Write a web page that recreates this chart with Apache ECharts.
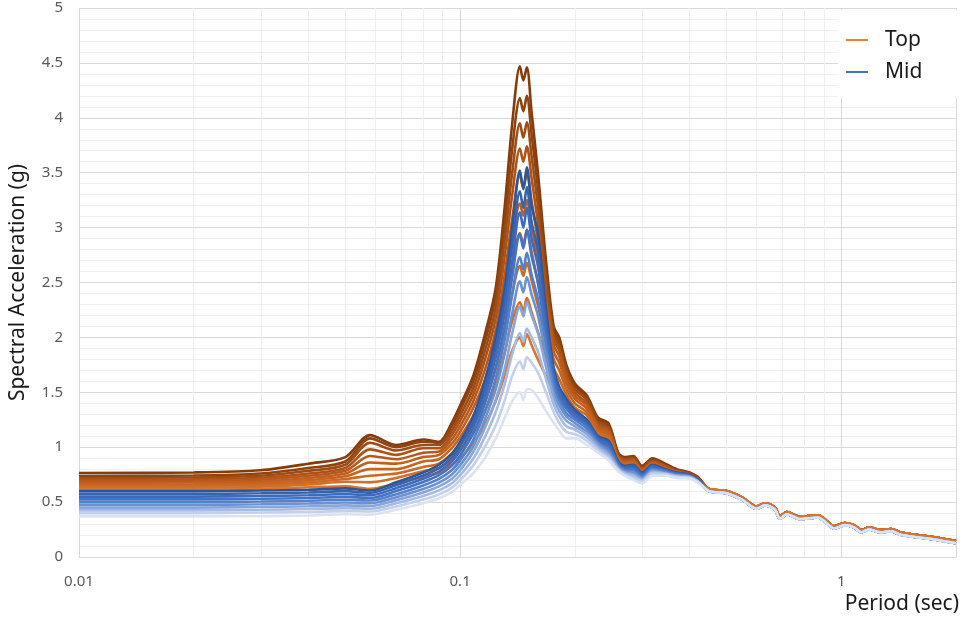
<!DOCTYPE html>
<html>
<head>
<meta charset="utf-8">
<title>Spectral Acceleration</title>
<script src="https://cdn.jsdelivr.net/npm/echarts@6/dist/echarts.min.js"></script>
<style>
  html, body { margin: 0; padding: 0; background: #fff; }
  #chart { width: 970px; height: 624px; }
</style>
</head>
<body>
<div id="chart"></div>
<script>
// periods (sec) where each curve is read individually
const periods = [0.01, 0.02, 0.03, 0.04, 0.05, 0.058, 0.068, 0.08, 0.088, 0.095,
  0.1, 0.108, 0.116, 0.124, 0.131, 0.137, 0.1435, 0.1465, 0.1496, 0.154,
  0.16, 0.168, 0.176, 0.182, 0.19, 0.2, 0.215, 0.23, 0.245, 0.26,
  0.27, 0.285, 0.3, 0.32, 0.345, 0.37, 0.4, 0.42]

// long periods, where all curves of a group sit on top of each other
const tailPeriods = [0.45, 0.5, 0.55, 0.6, 0.63, 0.67, 0.69, 0.72, 0.78, 0.87,
  0.9, 0.96, 1.02, 1.08, 1.13, 1.18, 1.27, 1.35, 1.44, 1.75, 2.0]
const tailTop = [0.62, 0.6, 0.54, 0.46, 0.49, 0.45, 0.37, 0.41, 0.365, 0.38,
  0.35, 0.28, 0.31, 0.29, 0.245, 0.27, 0.245, 0.255, 0.22, 0.18, 0.145]
const tailMid = [0.6, 0.58, 0.52, 0.44, 0.47, 0.43, 0.35, 0.39, 0.345, 0.36,
  0.33, 0.26, 0.29, 0.27, 0.225, 0.25, 0.225, 0.235, 0.2, 0.16, 0.125]

// Top group, highest to lowest
const top01 = [.765, .77, .79, .85, .91, 1.11, 1.02, 1.07, 1.05, 1.22, 1.38, 1.64, 2.02, 2.45, 3.2, 3.95, 4.47, 4.34, 4.46, 4.05, 3.5, 2.7, 2.1, 2.0, 1.75, 1.58, 1.47, 1.27, 1.22, .95, .91, .92, .83, .9, .85, .8, .77, .73]
const top02 = [.738, .742, .76, .81, .87, 1.08, 1.0, 1.05, 1.04, 1.19, 1.34, 1.59, 1.95, 2.38, 3.05, 3.72, 4.18, 4.06, 4.2, 3.85, 3.36, 2.62, 2.06, 1.96, 1.72, 1.56, 1.45, 1.25, 1.2, .94, .9, .91, .82, .89, .84, .79, .765, .725]
const top03 = [.72, .724, .74, .785, .84, 1.04, .97, 1.02, 1.02, 1.15, 1.29, 1.53, 1.87, 2.28, 2.9, 3.5, 3.95, 3.82, 3.96, 3.65, 3.2, 2.53, 2.02, 1.92, 1.69, 1.53, 1.43, 1.23, 1.18, .93, .89, .9, .81, .88, .83, .79, .76, .72]
const top04 = [.705, .708, .722, .76, .81, .98, .93, .99, .99, 1.11, 1.24, 1.47, 1.79, 2.18, 2.75, 3.3, 3.72, 3.6, 3.74, 3.45, 3.04, 2.44, 1.98, 1.88, 1.66, 1.5, 1.4, 1.21, 1.16, .92, .88, .89, .8, .87, .83, .78, .755, .715]
const top05 = [.69, .693, .705, .74, .785, .92, .89, .95, .96, 1.07, 1.19, 1.41, 1.7, 2.07, 2.58, 3.08, 3.48, 3.36, 3.5, 3.24, 2.88, 2.34, 1.93, 1.83, 1.62, 1.47, 1.38, 1.19, 1.15, .91, .87, .88, .79, .86, .82, .78, .75, .71]
const top06 = [.675, .678, .688, .72, .76, .86, .85, .91, .93, 1.03, 1.14, 1.35, 1.61, 1.96, 2.42, 2.87, 3.22, 3.11, 3.25, 3.02, 2.7, 2.23, 1.87, 1.77, 1.58, 1.44, 1.35, 1.17, 1.13, .9, .86, .87, .79, .85, .81, .77, .745, .705]
const top07 = [.66, .662, .672, .7, .735, .8, .8, .87, .89, .99, 1.09, 1.28, 1.52, 1.84, 2.25, 2.64, 2.95, 2.85, 2.98, 2.78, 2.5, 2.11, 1.8, 1.7, 1.53, 1.4, 1.32, 1.15, 1.11, .89, .85, .86, .78, .85, .8, .77, .74, .7]
const top08 = [.645, .647, .656, .68, .71, .74, .76, .82, .85, .94, 1.03, 1.2, 1.42, 1.71, 2.06, 2.4, 2.65, 2.56, 2.68, 2.52, 2.29, 1.97, 1.72, 1.62, 1.48, 1.36, 1.29, 1.13, 1.09, .88, .84, .85, .77, .84, .8, .76, .735, .695]
const top09 = [.63, .632, .64, .66, .685, .68, .72, .78, .81, .89, .97, 1.12, 1.32, 1.57, 1.87, 2.15, 2.32, 2.24, 2.36, 2.23, 2.05, 1.82, 1.63, 1.53, 1.42, 1.32, 1.25, 1.11, 1.07, .87, .83, .84, .76, .83, .79, .76, .73, .69]
const top10 = [.615, .616, .622, .635, .645, .62, .67, .73, .77, .84, .9, 1.03, 1.2, 1.42, 1.66, 1.88, 2.0, 1.92, 2.03, 1.93, 1.8, 1.65, 1.52, 1.44, 1.36, 1.28, 1.22, 1.09, 1.05, .86, .82, .83, .75, .82, .78, .75, .725, .685]

// Mid group, highest to lowest
const mid01 = [.6, .6, .605, .612, .625, .605, .68, .77, .84, .94, 1.05, 1.27, 1.6, 2.0, 2.45, 3.0, 3.52, 3.35, 3.55, 3.2, 2.95, 2.25, 1.72, 1.55, 1.44, 1.34, 1.25, 1.1, 1.06, .87, .83, .84, .77, .84, .8, .77, .75, .71]
const mid02 = [.575, .575, .58, .587, .6, .585, .655, .742, .81, .905, 1.01, 1.22, 1.53, 1.91, 2.34, 2.85, 3.33, 3.18, 3.37, 3.05, 2.8, 2.17, 1.68, 1.52, 1.41, 1.32, 1.23, 1.09, 1.04, .86, .82, .83, .76, .83, .79, .765, .745, .705]
const mid03 = [.55, .55, .555, .562, .574, .562, .628, .713, .778, .868, .97, 1.17, 1.46, 1.82, 2.23, 2.7, 3.14, 3.0, 3.18, 2.9, 2.65, 2.09, 1.64, 1.49, 1.38, 1.3, 1.21, 1.07, 1.02, .85, .81, .81, .75, .82, .79, .76, .74, .7]
const mid04 = [.525, .525, .53, .537, .548, .538, .6, .683, .745, .83, .925, 1.12, 1.39, 1.73, 2.11, 2.55, 2.94, 2.81, 2.98, 2.74, 2.5, 2.0, 1.6, 1.45, 1.35, 1.27, 1.19, 1.06, 1.0, .84, .8, .8, .74, .81, .78, .755, .74, .7]
const mid05 = [.5, .5, .505, .512, .522, .514, .572, .652, .712, .79, .88, 1.06, 1.32, 1.63, 1.99, 2.39, 2.73, 2.62, 2.77, 2.57, 2.35, 1.92, 1.55, 1.42, 1.31, 1.25, 1.17, 1.04, .98, .83, .79, .78, .73, .8, .78, .75, .735, .695]
const mid06 = [.475, .475, .48, .487, .496, .49, .545, .62, .678, .75, .835, 1.0, 1.25, 1.53, 1.86, 2.22, 2.51, 2.41, 2.55, 2.39, 2.2, 1.83, 1.5, 1.38, 1.28, 1.22, 1.14, 1.03, .96, .82, .78, .77, .72, .79, .77, .745, .735, .695]
const mid07 = [.45, .45, .455, .462, .47, .465, .518, .588, .643, .71, .79, .95, 1.17, 1.43, 1.72, 2.04, 2.28, 2.19, 2.32, 2.2, 2.04, 1.73, 1.45, 1.33, 1.24, 1.19, 1.12, 1.01, .94, .81, .77, .75, .71, .78, .76, .74, .73, .69]
const mid08 = [.425, .425, .43, .437, .445, .44, .49, .556, .607, .67, .745, .89, 1.09, 1.32, 1.58, 1.85, 2.04, 1.96, 2.08, 2.0, 1.87, 1.62, 1.39, 1.28, 1.19, 1.16, 1.09, .99, .92, .8, .76, .74, .7, .77, .76, .735, .725, .69]
const mid09 = [.4, .4, .405, .41, .418, .414, .46, .523, .57, .63, .7, .83, 1.0, 1.2, 1.43, 1.65, 1.78, 1.71, 1.82, 1.77, 1.68, 1.5, 1.32, 1.22, 1.14, 1.12, 1.06, .97, .9, .79, .75, .72, .69, .76, .75, .73, .72, .685]
const mid10 = [.37, .37, .372, .378, .39, .385, .43, .49, .535, .59, .655, .76, .9, 1.08, 1.27, 1.42, 1.5, 1.43, 1.53, 1.52, 1.45, 1.33, 1.22, 1.15, 1.08, 1.08, 1.02, .95, .88, .78, .74, .7, .67, .74, .74, .72, .715, .68]

const topCurves = [top01, top02, top03, top04, top05, top06, top07, top08, top09, top10]
const midCurves = [mid01, mid02, mid03, mid04, mid05, mid06, mid07, mid08, mid09, mid10]

// log minor grid positions
const minorPeriods = [0.02, 0.03, 0.04, 0.05, 0.06, 0.07, 0.08, 0.09,
  0.2, 0.3, 0.4, 0.5, 0.6, 0.7, 0.8, 0.9]

const topColors = ['#843c0c', '#8e4310', '#9e4b14', '#ae5318', '#b8591b',
  '#c05f1e', '#c66421', '#cb6a25', '#d0702a', '#d6762f']
const midColors = ['#2f5597', '#3762ad', '#3d6abb', '#4472c4', '#5381ca',
  '#6c91d1', '#88a6da', '#a5bbe3', '#c2d0ec', '#dbe3f3']

const font = "'Noto Sans', 'Open Sans', sans-serif"

const toPoints = (xs, ys) => xs.map((x, i) => [x, ys[i]])

const curveSeries = (name, curve, tail, color) => ({
  name: name,
  type: 'line',
  data: toPoints(periods, curve).concat(toPoints(tailPeriods, tail)),
  showSymbol: false,
  symbol: 'none',
  smooth: 0.3,
  z: 3,
  lineStyle: { width: 2.6, color: color },
  itemStyle: { color: color },
  emphasis: { disabled: true }
})

const series = [
  {
    type: 'line',
    data: [],
    silent: true,
    z: 1,
    markLine: {
      silent: true,
      z: 1,
      symbol: 'none',
      label: { show: false },
      lineStyle: { color: '#efefef', width: 1, type: 'solid' },
      data: minorPeriods.map(p => ({ xAxis: p }))
    }
  }
]
topCurves.forEach((c, i) => series.push(curveSeries('Top', c, tailTop, topColors[i])))
midCurves.forEach((c, i) => series.push(curveSeries('Mid', c, tailMid, midColors[i])))

const chart = echarts.init(document.getElementById('chart'))

chart.setOption({
  animation: false,
  backgroundColor: '#fff',
  textStyle: { fontFamily: font },
  grid: { left: 74, right: 14, top: 8, bottom: 67, containLabel: false },
  legend: {
    orient: 'vertical',
    left: 838,
    top: 10,
    padding: [18, 52, 14, 8],
    backgroundColor: '#fff',
    icon: 'rect',
    itemWidth: 22,
    itemHeight: 2,
    itemGap: 8,
    textStyle: { fontSize: 21, color: '#1a1a1a', fontFamily: font, lineHeight: 24, padding: [0, 0, 0, 12] },
    data: [
      { name: 'Top', itemStyle: { color: '#ed7d31' } },
      { name: 'Mid', itemStyle: { color: '#4472c4' } }
    ]
  },
  xAxis: {
    type: 'log',
    logBase: 10,
    min: 0.01,
    max: 2,
    name: 'Period (sec)',
    nameLocation: 'end',
    nameGap: 3,
    nameTextStyle: { fontSize: 21, color: '#1a1a1a', align: 'right', verticalAlign: 'top', padding: [37, 0, 0, 0] },
    axisLine: { show: true, lineStyle: { color: '#d9d9d9' } },
    axisTick: { show: false },
    axisLabel: { fontSize: 15, color: '#595959', margin: 17, showMaxLabel: false },
    splitLine: { show: true, lineStyle: { color: '#d9d9d9' } }
  },
  yAxis: {
    type: 'value',
    min: 0,
    max: 5,
    interval: 0.5,
    name: 'Spectral Acceleration (g)',
    nameLocation: 'middle',
    nameGap: 50,
    nameRotate: 90,
    nameTextStyle: { fontSize: 21, color: '#1a1a1a' },
    axisLine: { show: false },
    axisTick: { show: false },
    axisLabel: { fontSize: 15, color: '#595959', margin: 16 },
    splitLine: { lineStyle: { color: '#d9d9d9' } },
    minorTick: { show: false, splitNumber: 5 },
    minorSplitLine: { show: true, lineStyle: { color: '#f0f0f0' } }
  },
  series: series
})

window.addEventListener('resize', () => chart.resize())
</script>
</body>
</html>
